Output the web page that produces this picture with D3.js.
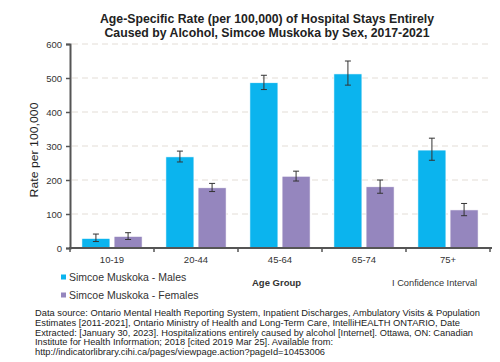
<!DOCTYPE html>
<html>
<head>
<meta charset="utf-8">
<script src="https://cdn.jsdelivr.net/npm/d3@7"></script>
<style>
  body { margin: 0; background: #fff; }
  svg { font-family: "Liberation Sans", Arial, sans-serif; }
</style>
</head>
<body>
<div id="chart"></div>
<script>
// age groups and series
const ageGroups = ['10-19', '20-44', '45-64', '65-74', '75+'];
const seriesNames = ['Simcoe Muskoka - Males', 'Simcoe Muskoka - Females'];
const maleRate = [28, 268, 486, 512, 288];
const maleLow = [19, 253, 466, 479, 258];
const maleHigh = [41, 285, 508, 550, 323];
const femaleRate = [34, 177, 211, 180, 112];
const femaleLow = [25, 166, 197, 161, 95];
const femaleHigh = [45, 190, 226, 200, 131];
const yTicks = [0, 100, 200, 300, 400, 500, 600];
const footer = [
  'Data source: Ontario Mental Health Reporting System, Inpatient Discharges, Ambulatory Visits & Population',
  'Estimates [2011-2021], Ontario Ministry of Health and Long-Term Care, IntelliHEALTH  ONTARIO, Date',
  'Extracted: [January 30, 2023]. Hospitalizations entirely caused by alcohol [Internet]. Ottawa, ON: Canadian',
  'Institute for Health Information; 2018 [cited 2019 Mar 25]. Available from:',
  'http://indicatorlibrary.cihi.ca/pages/viewpage.action?pageId=10453006'
];
const footerWidths = [445, 425, 438, 298, 290];

const colors = ['#0BB4EE', '#9586BE'];
const width = 500, height = 362;

const svg = d3.select('#chart').append('svg')
  .attr('width', width)
  .attr('height', height);

// title
svg.append('text')
  .attr('x', 267).attr('y', 23)
  .attr('text-anchor', 'middle')
  .attr('font-size', 12.3).attr('font-weight', 'bold').attr('fill', '#222')
  .attr('textLength', 334).attr('lengthAdjust', 'spacingAndGlyphs')
  .text('Age-Specific Rate (per 100,000) of Hospital Stays Entirely');
svg.append('text')
  .attr('x', 267).attr('y', 37)
  .attr('text-anchor', 'middle')
  .attr('font-size', 12.3).attr('font-weight', 'bold').attr('fill', '#222')
  .attr('textLength', 325).attr('lengthAdjust', 'spacingAndGlyphs')
  .text('Caused by Alcohol, Simcoe Muskoka by Sex, 2017-2021');

const x0 = d3.scaleBand().domain(ageGroups).range([70, 490]).paddingInner(0).paddingOuter(0);
const x1 = d3.scaleBand().domain([0, 1]).range([0, x0.bandwidth()]).paddingInner(0.13).paddingOuter(0.37);
const y = d3.scaleLinear().domain([0, 600]).range([248, 44]);

// gridlines
svg.append('g').selectAll('line')
  .data(yTicks.filter(d => d > 0))
  .join('line')
  .attr('x1', 72).attr('x2', 492)
  .attr('y1', d => y(d)).attr('y2', d => y(d))
  .attr('stroke', '#e3ddd6').attr('stroke-width', 1)
  .attr('stroke-dasharray', '6,4');

const data = ageGroups.map((g, i) => ({
  group: g,
  vals: [
    { s: 0, v: maleRate[i], lo: maleLow[i], hi: maleHigh[i] },
    { s: 1, v: femaleRate[i], lo: femaleLow[i], hi: femaleHigh[i] }
  ]
}));

const groups = svg.append('g').selectAll('g')
  .data(data)
  .join('g')
  .attr('transform', d => `translate(${x0(d.group)},0)`);

groups.selectAll('rect')
  .data(d => d.vals)
  .join('rect')
  .attr('x', d => x1(d.s))
  .attr('width', x1.bandwidth())
  .attr('y', d => y(d.v))
  .attr('height', d => y(0) - y(d.v))
  .attr('fill', d => colors[d.s])
  .attr('stroke', '#fff').attr('stroke-width', 0.6);

// error bars
const eb = groups.selectAll('g.err')
  .data(d => d.vals)
  .join('g').attr('class', 'err')
  .attr('transform', d => `translate(${x1(d.s) + x1.bandwidth() / 2},0)`);
eb.append('line')
  .attr('y1', d => y(d.lo)).attr('y2', d => y(d.hi))
  .attr('stroke', '#333').attr('stroke-width', 1);
eb.append('line').attr('x1', -3).attr('x2', 3)
  .attr('y1', d => y(d.lo)).attr('y2', d => y(d.lo))
  .attr('stroke', '#333').attr('stroke-width', 1);
eb.append('line').attr('x1', -3).attr('x2', 3)
  .attr('y1', d => y(d.hi)).attr('y2', d => y(d.hi))
  .attr('stroke', '#333').attr('stroke-width', 1);

// y axis
const yAxis = svg.append('g')
  .attr('transform', 'translate(70,0)')
  .call(d3.axisLeft(y).tickValues(yTicks).tickSize(4).tickPadding(4));
yAxis.select('.domain').attr('stroke', '#555').attr('stroke-width', 2);
yAxis.selectAll('.tick line').attr('stroke', '#555').attr('stroke-width', 1.5);
yAxis.selectAll('.tick text').attr('font-size', 9.5).attr('fill', '#333')
  .attr('font-family', '"Liberation Sans", Arial, sans-serif');

// x axis with ticks at band edges
const xAxis = svg.append('g').attr('transform', `translate(0,${y(0)})`);
xAxis.append('line').attr('x1', 69).attr('x2', 492)
  .attr('stroke', '#555').attr('stroke-width', 2);
xAxis.selectAll('line.tk')
  .data(ageGroups.map(g => x0(g)).concat([x0.range()[1]]))
  .join('line').attr('class', 'tk')
  .attr('x1', d => d).attr('x2', d => d)
  .attr('y1', 0).attr('y2', 4)
  .attr('stroke', '#555').attr('stroke-width', 1.5);
xAxis.selectAll('text')
  .data(ageGroups)
  .join('text')
  .attr('x', d => x0(d) + x0.bandwidth() / 2)
  .attr('y', 15)
  .attr('text-anchor', 'middle')
  .attr('font-size', 9.5).attr('fill', '#333')
  .text(d => d);

// y label
svg.append('text')
  .attr('transform', 'translate(38,150) rotate(-90)')
  .attr('text-anchor', 'middle')
  .attr('font-size', 10.5).attr('fill', '#222')
  .attr('textLength', 95).attr('lengthAdjust', 'spacingAndGlyphs')
  .text('Rate per 100,000');

// legend
const legend = svg.append('g').selectAll('g')
  .data(seriesNames)
  .join('g')
  .attr('transform', (d, i) => `translate(61,${277 + i * 18})`);
legend.append('rect')
  .attr('x', 0).attr('y', -2.5).attr('width', 5).attr('height', 5)
  .attr('fill', (d, i) => colors[i]);
legend.append('text')
  .attr('x', 8).attr('y', 4)
  .attr('font-size', 10.5).attr('fill', '#333')
  .text(d => d);

svg.append('text')
  .attr('x', 252).attr('y', 286)
  .attr('font-size', 9.5).attr('font-weight', 'bold').attr('fill', '#333')
  .text('Age Group');

svg.append('text')
  .attr('x', 392).attr('y', 286)
  .attr('font-size', 9).attr('fill', '#333')
  .attr('textLength', 85).attr('lengthAdjust', 'spacingAndGlyphs')
  .text('I Confidence Interval');

// footer
svg.append('g').selectAll('text')
  .data(footer)
  .join('text')
  .attr('x', 35)
  .attr('y', (d, i) => 316 + i * 9.8)
  .attr('font-size', 9.5).attr('fill', '#222')
  .attr('textLength', (d, i) => footerWidths[i])
  .attr('lengthAdjust', 'spacingAndGlyphs')
  .text(d => d);
</script>
</body>
</html>
